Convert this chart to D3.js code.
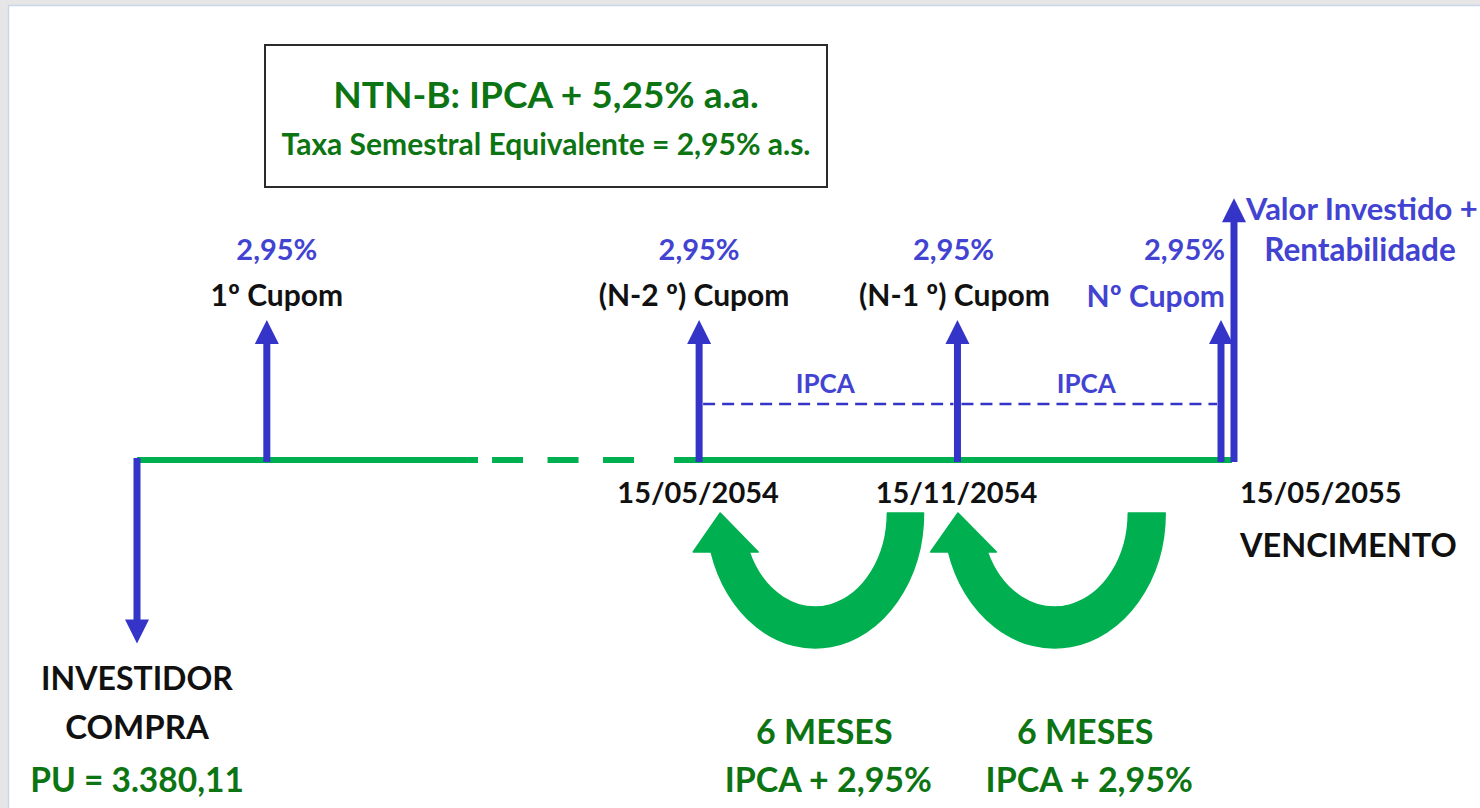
<!DOCTYPE html>
<html>
<head>
<meta charset="utf-8">
<script src="https://cdn.jsdelivr.net/npm/d3@7"></script>
<style>
  html, body { margin: 0; padding: 0; background: #e6e6e6; }
  svg { display: block; }
  text { font-family: Lato, "Open Sans", sans-serif; font-weight: bold; }
</style>
</head>
<body>
<div id="fluxo"></div>
<script>
// ---- data ----
var titleText = "NTN-B: IPCA + 5,25% a.a.";
var subtitleText = "Taxa Semestral Equivalente = 2,95% a.s.";

// semesters counted from the purchase date (axis is broken between 1 and the last coupons)
var couponPeriods = [1, 4.33, 6.32, 8.35];
var couponNames = ["1º Cupom", "(N-2 º) Cupom", "(N-1 º) Cupom", "Nº Cupom"];
var couponRates = ["2,95%", "2,95%", "2,95%", "2,95%"];
var couponSize = [1, 1, 1, 1];

var datePeriods = [4.33, 6.32, 8.35];
var dateLabels = ["15/05/2054", "15/11/2054", "15/05/2055"];

var purchasePeriod = 0;
var purchaseSize = -1.31;
var purchaseLines = ["INVESTIDOR", "COMPRA"];
var purchasePrice = "PU = 3.380,11";

var maturityPeriod = 8.45;
var maturitySize = 1.87;
var maturityLines = ["Valor Investido +", "Rentabilidade"];
var maturityTag = "VENCIMENTO";

var ipcaFrom = [4.33, 6.32];
var ipcaTo = [6.32, 8.35];
var ipcaLabel = "IPCA";
var stepLines = ["6 MESES", "IPCA + 2,95%"];

var breakStart = 2.627, breakEnd = 4.137;

// ---- layout ----
var W = 1480, H = 808;
var blue = "#3434c8", blueText = "#4343d2", green = "#00b050", darkGreen = "#0c7412";
var curveShift = [10, -11];

var svg = d3.select("#fluxo").append("svg")
  .attr("width", W).attr("height", H);

// window frame
svg.append("rect").attr("x", 9).attr("y", 6).attr("width", W - 9).attr("height", H - 6).attr("fill", "white");
svg.append("line").attr("x1", 8.5).attr("x2", 8.5).attr("y1", 5).attr("y2", H).attr("stroke", "#c9d5ea").attr("stroke-width", 1.5);
svg.append("line").attr("x1", 8).attr("x2", W).attr("y1", 5.5).attr("y2", 5.5).attr("stroke", "#c9d5ea").attr("stroke-width", 1.5);

var x = d3.scaleLinear().domain([0, 8.35]).range([137, 1221]);
var y = d3.scaleLinear().domain([0, 1]).range([460, 320]);

// title box
svg.append("rect")
  .attr("x", 265).attr("y", 45).attr("width", 562).attr("height", 142)
  .attr("fill", "white").attr("stroke", "#2b2b2b").attr("stroke-width", 2);
svg.append("text").attr("x", 546).attr("y", 108).attr("text-anchor", "middle")
  .style("font-size", "37px").attr("fill", darkGreen).text(titleText);
svg.append("text").attr("x", 546).attr("y", 155).attr("text-anchor", "middle")
  .style("font-size", "30px").attr("fill", darkGreen).text(subtitleText);

// time line (broken in the middle)
var axisY = y(0);
svg.append("line").attr("x1", x(0)).attr("x2", x(breakStart)).attr("y1", axisY).attr("y2", axisY)
  .attr("stroke", green).attr("stroke-width", 6);
svg.append("line").attr("x1", x(breakStart) + 14).attr("x2", x(breakEnd) - 38).attr("y1", axisY).attr("y2", axisY)
  .attr("stroke", green).attr("stroke-width", 6).attr("stroke-dasharray", "31,24.5");
svg.append("line").attr("x1", x(breakEnd)).attr("x2", x(maturityPeriod) - 2).attr("y1", axisY).attr("y2", axisY)
  .attr("stroke", green).attr("stroke-width", 6);

// IPCA dashed lines between coupons
svg.selectAll(".ipca").data(ipcaFrom).enter().append("line")
  .attr("x1", function(d) { return x(d) + 4; })
  .attr("x2", function(d, i) { return x(ipcaTo[i]) - 4; })
  .attr("y1", y(0.4)).attr("y2", y(0.4))
  .attr("stroke", blue).attr("stroke-width", 2.5).attr("stroke-dasharray", "12,7");
svg.selectAll(".ipcaLbl").data(ipcaFrom).enter().append("text")
  .attr("x", function(d, i) { return (x(d) + x(ipcaTo[i])) / 2 - 3; })
  .attr("y", y(0.48))
  .attr("text-anchor", "middle").style("font-size", "26px").attr("fill", blueText).text(ipcaLabel);

// vertical arrows
function arrow(px, v) {
  var y0 = y(0), y1 = y(v), dir = v > 0 ? 1 : -1, hl = 24, hw = 12;
  svg.append("line").attr("x1", px).attr("x2", px).attr("y1", y0 + dir * 2).attr("y2", y1 + dir * (hl - 2))
    .attr("stroke", blue).attr("stroke-width", 7);
  svg.append("path")
    .attr("d", "M" + px + "," + y1 + "L" + (px - hw) + "," + (y1 + dir * hl) + "L" + (px + hw) + "," + (y1 + dir * hl) + "Z")
    .attr("fill", blue);
}
couponPeriods.forEach(function(p, i) { arrow(x(p), couponSize[i]); });
arrow(x(purchasePeriod), purchaseSize);
arrow(x(maturityPeriod), maturitySize);

// coupon labels
var rateDx = [10, 0, -4, 4], nameDx = [10, -5, -3, 4];
svg.selectAll(".rate").data(couponPeriods).enter().append("text")
  .attr("x", function(d, i) { return x(d) + rateDx[i]; })
  .attr("y", y(1.43))
  .attr("text-anchor", function(d, i) { return i == 3 ? "end" : "middle"; })
  .style("font-size", "29px").attr("fill", blueText)
  .text(function(d, i) { return couponRates[i]; });
svg.selectAll(".cname").data(couponPeriods).enter().append("text")
  .attr("x", function(d, i) { return x(d) + nameDx[i]; })
  .attr("y", function(d, i) { return y(i == 3 ? 1.09 : 1.1); })
  .attr("text-anchor", function(d, i) { return i == 3 ? "end" : "middle"; })
  .style("font-size", "30px").attr("fill", function(d, i) { return i == 3 ? blueText : "#111"; })
  .text(function(d, i) { return couponNames[i]; });

// dates
svg.selectAll(".date").data(datePeriods).enter().append("text")
  .attr("x", function(d, i) { return i == 2 ? x(d) + 19 : x(d) - 1; })
  .attr("y", 503)
  .attr("text-anchor", function(d, i) { return i == 2 ? "start" : "middle"; })
  .style("font-size", "29px").attr("fill", "#111")
  .text(function(d, i) { return dateLabels[i]; });
svg.append("text").attr("x", x(maturityPeriod) + 6).attr("y", 557)
  .style("font-size", "32.5px").attr("fill", "#111").text(maturityTag);

// maturity label
svg.append("text").attr("x", x(maturityPeriod) + 12).attr("y", 220)
  .style("font-size", "31px").attr("fill", blueText).text(maturityLines[0]);
svg.append("text").attr("x", x(maturityPeriod) + 126).attr("y", 261).attr("text-anchor", "middle")
  .style("font-size", "31.5px").attr("fill", blueText).text(maturityLines[1]);

// purchase labels
svg.append("text").attr("x", x(purchasePeriod)).attr("y", 690).attr("text-anchor", "middle")
  .style("font-size", "32px").attr("fill", "#111").text(purchaseLines[0]);
svg.append("text").attr("x", x(purchasePeriod)).attr("y", 739).attr("text-anchor", "middle")
  .style("font-size", "33px").attr("fill", "#111").text(purchaseLines[1]);
svg.append("text").attr("x", x(purchasePeriod)).attr("y", 792).attr("text-anchor", "middle")
  .style("font-size", "33.5px").attr("fill", darkGreen).text(purchasePrice);

// curved "6 meses" arrows
ipcaFrom.forEach(function(a, i) {
  var b = ipcaTo[i], span = x(b) - x(a);
  var cx = x(a) + 0.41 * span + curveShift[i], cy = 513;
  var rxO = 0.42 * span, ryO = 135, rxI = 0.28 * span, ryI = 94;
  var baseY = cy + 39;
  var tO = Math.PI - Math.asin(39 / ryO), tI = Math.PI - Math.asin(39 / ryI);
  var oX = cx + rxO * Math.cos(tO), iX = cx + rxI * Math.cos(tI);
  var tipX = (oX + iX) / 2 - 10;
  var d = "M" + (cx + rxO) + "," + cy +
    "A" + rxO + "," + ryO + " 0 0 1 " + oX + "," + baseY +
    "L" + (oX - 18) + "," + baseY +
    "L" + tipX + "," + cy +
    "L" + (iX + 9) + "," + baseY +
    "L" + iX + "," + baseY +
    "A" + rxI + "," + ryI + " 0 0 0 " + (cx + rxI) + "," + cy + "Z";
  svg.append("path").attr("d", d).attr("fill", green).attr("stroke", green).attr("stroke-width", 1.5).attr("stroke-linejoin", "round");

  var mid = (x(a) + x(b)) / 2;
  svg.append("text").attr("x", mid - 4).attr("y", 744).attr("text-anchor", "middle")
    .style("font-size", "34px").attr("fill", darkGreen).text(stepLines[0]);
  svg.append("text").attr("x", mid).attr("y", 792).attr("text-anchor", "middle")
    .style("font-size", "34px").attr("fill", darkGreen).text(stepLines[1]);
});
</script>
</body>
</html>
